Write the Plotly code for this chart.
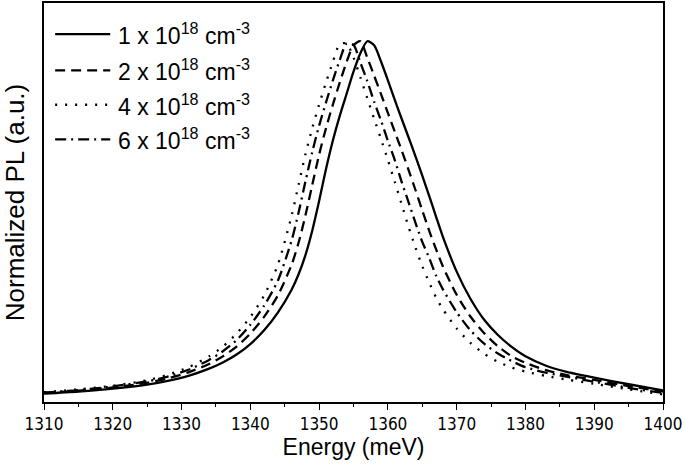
import plotly.graph_objects as go

# Energy grid (meV)
energy = [1310, 1315, 1320, 1325, 1328, 1331, 1334, 1336, 1338, 1340, 1342, 1344, 1346,
          1347, 1348, 1349, 1350, 1351, 1352, 1353, 1354, 1355, 1356, 1357, 1358, 1359,
          1360, 1361, 1362, 1363, 1364, 1365, 1366, 1367, 1368, 1370, 1372, 1374, 1376,
          1378, 1380, 1383, 1386, 1390, 1395, 1400]

# Normalized PL, 1e18 cm^-3 (solid)
pl_1e18 = [0.023, 0.029, 0.037, 0.048, 0.058, 0.072, 0.092, 0.109, 0.131, 0.160, 0.198, 0.247, 0.310,
           0.352, 0.405, 0.473, 0.555, 0.643, 0.722, 0.790, 0.851, 0.912, 0.963, 0.996, 0.985, 0.940,
           0.888, 0.834, 0.782, 0.731, 0.679, 0.625, 0.569, 0.512, 0.456, 0.360, 0.285, 0.227, 0.185,
           0.152, 0.126, 0.100, 0.083, 0.067, 0.049, 0.032]

# Normalized PL, 2e18 cm^-3 (dashed)
pl_2e18 = [0.025, 0.031, 0.040, 0.053, 0.065, 0.082, 0.105, 0.126, 0.153, 0.189, 0.235, 0.294, 0.379,
           0.439, 0.514, 0.599, 0.683, 0.756, 0.821, 0.882, 0.939, 0.985, 0.996, 0.951, 0.901, 0.850,
           0.798, 0.746, 0.695, 0.641, 0.586, 0.529, 0.473, 0.422, 0.374, 0.296, 0.236, 0.190, 0.154,
           0.126, 0.108, 0.088, 0.074, 0.061, 0.044, 0.029]

# Normalized PL, 4e18 cm^-3 (dotted)
pl_4e18 = [0.027, 0.035, 0.045, 0.060, 0.075, 0.096, 0.126, 0.153, 0.189, 0.235, 0.294, 0.379, 0.514,
           0.599, 0.683, 0.756, 0.821, 0.882, 0.939, 0.988, 0.990, 0.951, 0.896, 0.839, 0.782, 0.726,
           0.668, 0.608, 0.546, 0.484, 0.427, 0.375, 0.330, 0.289, 0.256, 0.203, 0.163, 0.133, 0.111,
           0.095, 0.084, 0.072, 0.062, 0.050, 0.035, 0.021]

# Normalized PL, 6e18 cm^-3 (dash-dot)
pl_6e18 = [0.026, 0.033, 0.043, 0.057, 0.070, 0.089, 0.116, 0.140, 0.171, 0.213, 0.266, 0.335, 0.446,
           0.522, 0.608, 0.690, 0.763, 0.827, 0.888, 0.944, 0.990, 0.986, 0.937, 0.886, 0.829, 0.777,
           0.721, 0.668, 0.608, 0.552, 0.495, 0.442, 0.398, 0.349, 0.311, 0.248, 0.198, 0.161, 0.134,
           0.113, 0.096, 0.081, 0.070, 0.056, 0.039, 0.025]

series_labels = ["1 x 10<sup>18</sup> cm<sup>-3</sup>",
                 "2 x 10<sup>18</sup> cm<sup>-3</sup>",
                 "4 x 10<sup>18</sup> cm<sup>-3</sup>",
                 "6 x 10<sup>18</sup> cm<sup>-3</sup>"]

series = [pl_1e18, pl_2e18, pl_4e18, pl_6e18]
dashes = ["solid", "10px,6px", "2px,8px", "11px,5px,2px,5px"]

fig = go.Figure()
for ys, name, dash in zip(series, series_labels, dashes):
    fig.add_trace(go.Scatter(
        x=energy, y=ys, mode="lines", name=name, showlegend=False,
        line=dict(color="black", width=2.3, dash=dash, shape="spline", smoothing=0.7),
    ))

# Legend drawn inside the plot (long line samples like the original)
legend_y = [0.922, 0.831, 0.745, 0.658]
for ly, name, dash in zip(legend_y, series_labels, dashes):
    fig.add_shape(type="line", xref="paper", yref="paper",
                  x0=0.018, x1=0.107, y0=ly, y1=ly,
                  line=dict(color="black", width=2.3, dash=dash))
    fig.add_annotation(xref="paper", yref="paper", x=0.117, y=ly,
                       xanchor="left", yanchor="middle", showarrow=False,
                       text=name, font=dict(size=23, color="black"))

fig.update_layout(
    width=685, height=468,
    margin=dict(l=44, r=22, t=1, b=66),
    paper_bgcolor="white", plot_bgcolor="white",
    font=dict(family="Liberation Sans, Arial, sans-serif", color="black"),
    showlegend=False,
)

fig.update_xaxes(
    range=[1310, 1400], tick0=1310, dtick=10,
    showline=True, linecolor="black", linewidth=1.5, mirror=True,
    ticks="outside", ticklen=6, tickwidth=1.3, tickcolor="black",
    minor=dict(dtick=5, ticks="outside", ticklen=3, tickwidth=1.3, tickcolor="black"),
    showgrid=False, zeroline=False,
    tickfont=dict(size=17, family="Liberation Sans Narrow, DejaVu Sans Condensed, Liberation Sans, Arial"),
    title=dict(text="Energy (meV)", font=dict(size=23), standoff=2),
)
fig.update_yaxes(
    range=[0, 1.1016],
    showline=True, linecolor="black", linewidth=1.5, mirror=True,
    ticks="", showticklabels=False, showgrid=False, zeroline=False,
    title=dict(text="Normalized PL (a.u.)", font=dict(size=26), standoff=25),
)

fig.write_html("out.html",
               config={"displayModeBar": False},
               post_script="document.body.style.margin='0';document.body.style.padding='0';")
